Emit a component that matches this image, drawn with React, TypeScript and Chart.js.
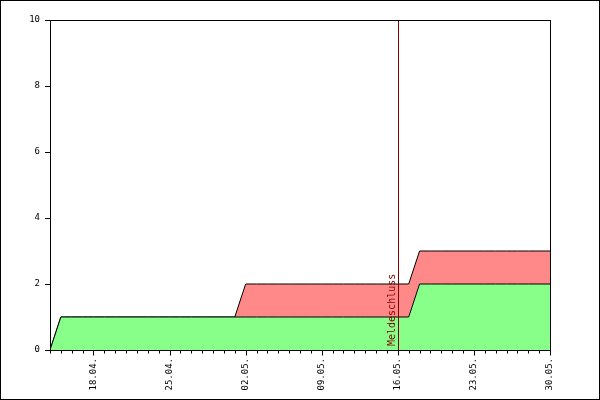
import React, { useEffect, useRef } from "react";
import { Chart, registerables } from "chart.js";

Chart.register(...registerables);

// Day labels from 14.04. to 30.05.
const dates: string[] = [
  "14.04.", "15.04.", "16.04.", "17.04.", "18.04.", "19.04.", "20.04.", "21.04.", "22.04.", "23.04.",
  "24.04.", "25.04.", "26.04.", "27.04.", "28.04.", "29.04.", "30.04.", "01.05.", "02.05.", "03.05.",
  "04.05.", "05.05.", "06.05.", "07.05.", "08.05.", "09.05.", "10.05.", "11.05.", "12.05.", "13.05.",
  "14.05.", "15.05.", "16.05.", "17.05.", "18.05.", "19.05.", "20.05.", "21.05.", "22.05.", "23.05.",
  "24.05.", "25.05.", "26.05.", "27.05.", "28.05.", "29.05.", "30.05.",
];

// green series (bottom)
const greenValues: number[] = [
  0, 1, 1, 1, 1, 1, 1, 1, 1, 1,
  1, 1, 1, 1, 1, 1, 1, 1, 1, 1,
  1, 1, 1, 1, 1, 1, 1, 1, 1, 1,
  1, 1, 1, 1, 2, 2, 2, 2, 2, 2,
  2, 2, 2, 2, 2, 2, 2,
];

// red series (stacked on top)
const redValues: number[] = [
  0, 0, 0, 0, 0, 0, 0, 0, 0, 0,
  0, 0, 0, 0, 0, 0, 0, 0, 1, 1,
  1, 1, 1, 1, 1, 1, 1, 1, 1, 1,
  1, 1, 1, 1, 1, 1, 1, 1, 1, 1,
  1, 1, 1, 1, 1, 1, 1,
];

const majorTickEvery = 7;
const firstMajorIndex = 4; // 18.04.
const deadlineLabel = "Meldeschluss";
const deadlineDate = "16.05.";
const yTicks: number[] = [0, 2, 4, 6, 8, 10];

const MONO = "'DejaVu Sans Mono', monospace";

export default function App() {
  const ref = useRef<HTMLCanvasElement | null>(null);

  useEffect(() => {
    document.body.style.margin = "0";
    const canvas = ref.current!;
    const greenPts = greenValues.map((v, i) => ({ x: i, y: v }));
    const totalPts = greenValues.map((v, i) => ({ x: i, y: v + redValues[i] }));
    const deadlineIndex = dates.indexOf(deadlineDate);

    const decor = {
      id: "decor",
      afterDatasetsDraw(chart: any) {
        const ctx = chart.ctx;
        const { left, right, top, bottom } = chart.chartArea;
        const xs = chart.scales.x;
        const ys = chart.scales.y;
        ctx.save();
        // deadline line
        const dx = Math.round(xs.getPixelForValue(deadlineIndex)) + 0.5;
        ctx.strokeStyle = "#800000";
        ctx.lineWidth = 1;
        ctx.beginPath();
        ctx.moveTo(dx, top);
        ctx.lineTo(dx, bottom);
        ctx.stroke();
        ctx.translate(dx - 1, bottom - 4);
        ctx.rotate(-Math.PI / 2);
        ctx.fillStyle = "#800000";
        ctx.font = "10px " + MONO;
        ctx.textAlign = "left";
        ctx.textBaseline = "bottom";
        ctx.fillText(deadlineLabel, 0, 0);
        ctx.restore();

        ctx.save();
        ctx.strokeStyle = "#000";
        ctx.lineWidth = 1;
        // plot frame
        ctx.strokeRect(Math.round(left) + 0.5, Math.round(top) + 0.5, Math.round(right - left), Math.round(bottom - top));
        // x ticks
        const by = Math.round(bottom) + 0.5;
        ctx.beginPath();
        for (let i = 0; i < dates.length; i++) {
          const px = Math.round(xs.getPixelForValue(i)) + 0.5;
          const major = (i - firstMajorIndex) % majorTickEvery === 0 && i >= firstMajorIndex;
          ctx.moveTo(px, by);
          ctx.lineTo(px, by + (major ? 5 : 3));
        }
        // y ticks
        for (const t of yTicks) {
          const py = Math.round(ys.getPixelForValue(t)) + 0.5;
          ctx.moveTo(Math.round(left) - 5, py);
          ctx.lineTo(Math.round(left), py);
        }
        ctx.stroke();
        // outer border
        ctx.strokeRect(0.5, 0.5, chart.width - 1, chart.height - 1);
        ctx.restore();
      },
    };

    const chart = new Chart(canvas, {
      type: "line",
      data: {
        datasets: [
          {
            label: "green",
            data: greenPts,
            borderColor: "#000",
            borderWidth: 1,
            backgroundColor: "#88ff88",
            fill: "origin",
            pointRadius: 0,
            tension: 0,
          },
          {
            label: "red",
            data: totalPts,
            borderColor: "#000",
            borderWidth: 1,
            backgroundColor: "#ff8888",
            fill: "-1",
            pointRadius: 0,
            tension: 0,
          },
        ],
      },
      options: {
        responsive: false,
        animation: false,
        events: [],
        layout: { padding: { top: 20, right: 50, left: 0, bottom: 0 } },
        plugins: { legend: { display: false }, tooltip: { enabled: false } },
        scales: {
          x: {
            type: "linear",
            min: 0,
            max: dates.length - 1,
            afterFit: (s: any) => { s.height = 50; },
            afterBuildTicks: (s: any) => {
              const ticks = [];
              for (let i = firstMajorIndex; i < dates.length; i += majorTickEvery) ticks.push({ value: i });
              s.ticks = ticks;
            },
            grid: { display: false, drawTicks: false },
            border: { display: false },
            ticks: {
              autoSkip: false,
              minRotation: 90,
              maxRotation: 90,
              padding: 8,
              color: "#000",
              font: { family: MONO, size: 9 },
              callback: (v: any) => dates[Math.round(Number(v))] ?? "",
            },
          },
          y: {
            min: 0,
            max: 10,
            afterFit: (s: any) => { s.width = 50; },
            grid: { display: false, drawTicks: false },
            border: { display: false },
            ticks: {
              stepSize: 2,
              padding: 10,
              color: "#000",
              font: { family: MONO, size: 9 },
            },
          },
        },
      },
      plugins: [decor],
    } as any);
    return () => chart.destroy();
  }, []);

  return <canvas ref={ref} width={600} height={400} style={{ display: "block" }} />;
}
